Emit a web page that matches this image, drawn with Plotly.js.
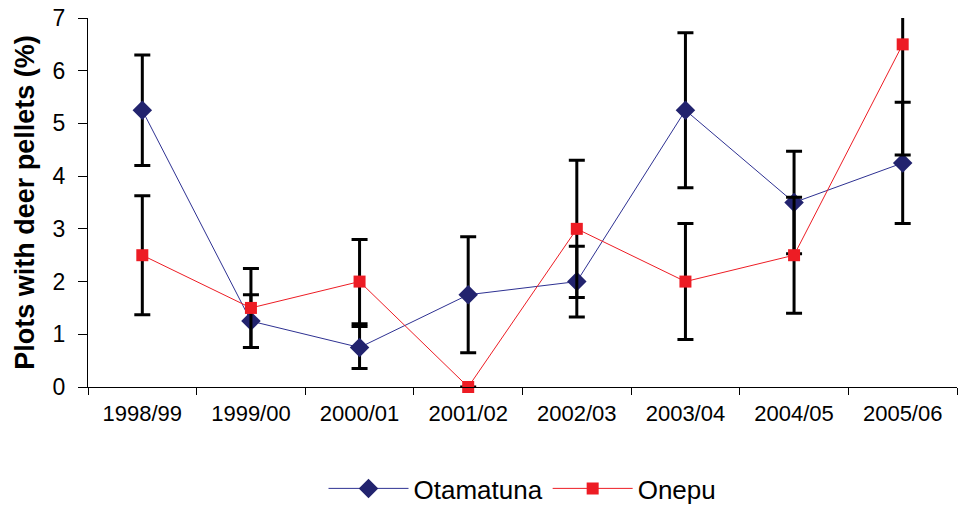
<!DOCTYPE html>
<html>
<head>
<meta charset="utf-8">
<script src="https://cdn.plot.ly/plotly-3.0.1.min.js"></script>
<style>html,body{margin:0;padding:0;background:#fff;}#chart{width:958px;height:506px;}</style>
</head>
<body>
<div id="chart"></div>
<script>
const seasons = ["1998/99","1999/00","2000/01","2001/02","2002/03","2003/04","2004/05","2005/06"];
const otamatuna = [5.25, 1.25, 0.75, 1.75, 2.0, 5.25, 3.5, 4.25];
const otamatunaErr = [1.05, 0.5, 0.4, 1.1, 0.67, 1.47, 0.97, 1.15];
const onepu = [2.5, 1.5, 2.0, 0.0, 3.0, 2.0, 2.5, 6.5];
const onepuErr = [1.13, 0.75, 0.8, 0.0, 1.3, 1.1, 1.1, 2.1];

const font = "Liberation Sans, Arial, sans-serif";

const traces = [
  {
    x: seasons, y: otamatuna, name: "Otamatuna", type: "scatter", mode: "lines+markers",
    line: {color: "#2e3192", width: 1},
    marker: {symbol: "diamond", size: 15, color: "#22236e"},
    error_y: {type: "data", array: otamatunaErr, visible: true, color: "#000", thickness: 3, width: 8}
  },
  {
    x: seasons, y: onepu, name: "Onepu", type: "scatter", mode: "lines+markers", cliponaxis: false,
    line: {color: "#ed1c24", width: 1},
    marker: {symbol: "square", size: 12, color: "#ed1c24"},
    error_y: {type: "data", array: onepuErr, visible: true, color: "#000", thickness: 3, width: 8}
  }
];

const layout = {
  width: 958, height: 506,
  margin: {l: 88, r: 1, t: 18, b: 119, autoexpand: false},
  paper_bgcolor: "#fff", plot_bgcolor: "#fff",
  font: {family: font, color: "#000", size: 21},
  showlegend: true,
  legend: {orientation: "h", x: 0.5, xanchor: "center", y: -0.275, yanchor: "middle",
           font: {size: 26, family: font}, itemwidth: 80, traceorder: "normal"},
  xaxis: {
    type: "category", tickson: "boundaries", ticks: "outside", ticklen: 7, tickcolor: "#000",
    showline: true, linecolor: "#000", linewidth: 1, showgrid: false, zeroline: false,
    tickfont: {size: 22}, ticklabelstandoff: 7, range: [-0.5, 7.5]
  },
  yaxis: {
    range: [0, 7], dtick: 1, ticks: "outside", ticklen: 9, tickcolor: "#000",
    showline: true, linecolor: "#000", linewidth: 1, showgrid: false, zeroline: false,
    tickfont: {size: 23}, ticklabelstandoff: 8,
    title: {text: "Plots with deer pellets (%)", font: {size: 27, family: font, weight: "bold"}, standoff: 10}
  }
};

Plotly.newPlot("chart", traces, layout, {displayModeBar: false, staticPlot: true});
</script>
</body>
</html>
